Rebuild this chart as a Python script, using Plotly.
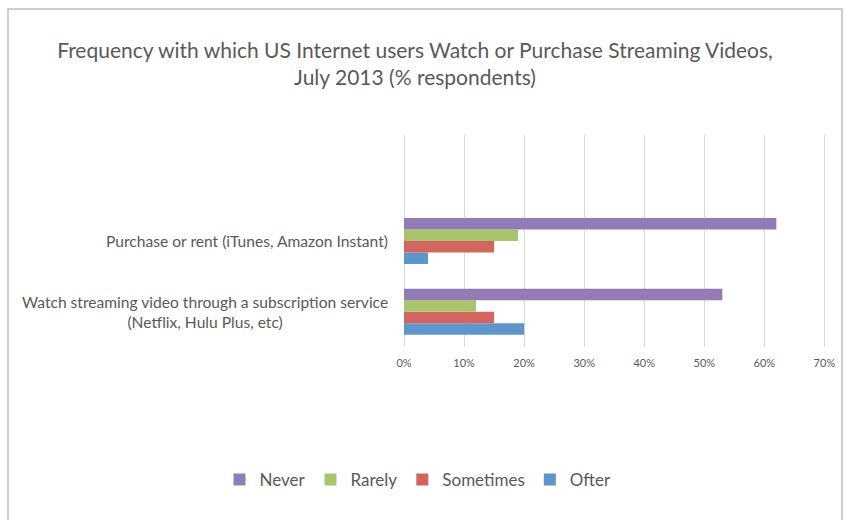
import plotly.graph_objects as go

categories = ["Watch streaming video through a subscription service<br>(Netflix, Hulu Plus, etc)",
              "Purchase or rent (iTunes, Amazon Instant)"]
series_names = ["Never", "Rarely", "Sometimes", "Ofter"]
never = [53, 62]
rarely = [12, 19]
sometimes = [15, 15]
ofter = [20, 4]
x_ticks = [0, 10, 20, 30, 40, 50, 60, 70]
title_text = "Frequency with which US Internet users Watch or Purchase Streaming Videos,<br>July 2013 (% respondents)"

colors = {"Never": "#937CB5", "Rarely": "#A9C46B", "Sometimes": "#D2665F", "Ofter": "#5E95CB"}
values = {"Never": never, "Rarely": rarely, "Sometimes": sometimes, "Ofter": ofter}

W, H = 846, 520
X_MAX = 70.6
L, T, B = 404, 135, 173
pw = round(420 * X_MAX / 70)
R = W - L - pw
ph = H - T - B
FONT = "Lato"
GRAY = "#595959"

fig = go.Figure()
for name in reversed(series_names):
    fig.add_trace(go.Bar(
        y=categories, x=values[name], name=name, orientation="h",
        marker=dict(color=colors[name], line=dict(width=0)),
    ))

def px2paper_x(px):
    return (px - L) / pw

def px2paper_y(py):
    return 1 - (py - T) / ph

annotations = []
for c in categories:
    annotations.append(dict(
        x=0, xref="paper", y=c, yref="y", xanchor="right", xshift=-14,
        text=c, showarrow=False, align="center",
        font=dict(family=FONT, size=15.6, color=GRAY),
    ))

fig.update_layout(
    width=W, height=H,
    margin=dict(l=L, r=R, t=T, b=B),
    paper_bgcolor="white", plot_bgcolor="white",
    barmode="group", bargap=0.35, bargroupgap=0,
    title=dict(text=title_text, x=415 / W, xanchor="center", xref="container",
               y=1 - 58 / H, yanchor="middle", yref="container",
               font=dict(family=FONT, size=21, color=GRAY)),
    xaxis=dict(range=[0, X_MAX], tickvals=x_ticks, ticktext=[f"{v}%" for v in x_ticks],
               showgrid=True, gridcolor="#D9D9D9", gridwidth=1,
               zeroline=True, zerolinecolor="#D9D9D9", zerolinewidth=1,
               showline=False, ticks="", ticklabelstandoff=8,
               tickfont=dict(family=FONT, size=11, color=GRAY)),
    yaxis=dict(type="category", range=[-0.5, 2.5], showticklabels=False,
               showgrid=False, zeroline=False, showline=False, ticks=""),
    legend=dict(orientation="h", traceorder="reversed", x=px2paper_x(418), xanchor="center",
                y=px2paper_y(480), yanchor="middle",
                font=dict(family=FONT, size=17, color=GRAY), itemwidth=30),
    annotations=annotations,
    shapes=[dict(type="rect", xref="paper", yref="paper",
                 x0=px2paper_x(8), x1=px2paper_x(842), y0=px2paper_y(530), y1=px2paper_y(9),
                 line=dict(color="#BFBFBF", width=1.5), fillcolor="rgba(0,0,0,0)", layer="below")],
)

fig.write_html("out.html")
